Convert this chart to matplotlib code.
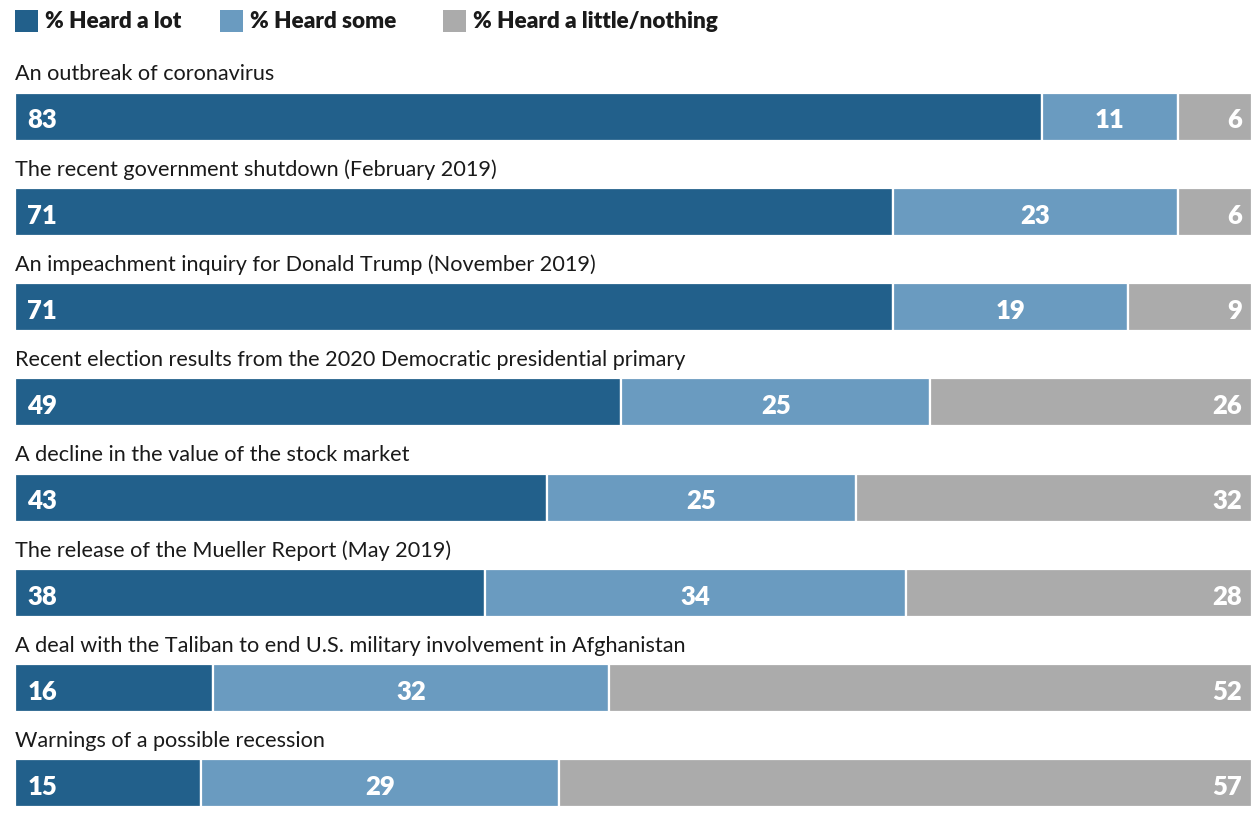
import matplotlib.pyplot as plt
from matplotlib.patches import Rectangle

# Data
topics = [
    "An outbreak of coronavirus",
    "The recent government shutdown (February 2019)",
    "An impeachment inquiry for Donald Trump (November 2019)",
    "Recent election results from the 2020 Democratic presidential primary",
    "A decline in the value of the stock market",
    "The release of the Mueller Report (May 2019)",
    "A deal with the Taliban to end U.S. military involvement in Afghanistan",
    "Warnings of a possible recession",
]
heard_lot = [83, 71, 71, 49, 43, 38, 16, 15]
heard_some = [11, 23, 19, 25, 25, 34, 32, 29]
heard_little = [6, 6, 9, 26, 32, 28, 52, 57]
series_names = ["% Heard a lot", "% Heard some", "% Heard a little/nothing"]

colors = ["#22608B", "#6A9BC0", "#ABABAB"]
plt.rcParams['font.family'] = ['Lato', 'DejaVu Sans']

W, H = 1252, 832
fig = plt.figure(figsize=(W / 100, H / 100), dpi=100)
x0 = 15 / W
ax = fig.add_axes([x0, 0, 1 - x0, 1])

first_c, step = 116.5, 95.25
ax.set_ylim((H - first_c) / step, -first_c / step)
ax.set_xlim(0, 100)
ax.axis("off")

h = 48 / step
ys = range(len(topics))
left = [0] * len(topics)
for k, vals in enumerate([heard_lot, heard_some, heard_little]):
    # the last segment fills the rest of the row (rounding)
    widths = vals if k < 2 else [100 - l for l in left]
    ax.barh(ys, widths, left=left, height=h, color=colors[k],
            edgecolor="white", linewidth=1.6)
    for i, v in enumerate(vals):
        if k == 0:
            x, ha = left[i] + 1.0, "left"
        elif k == 1:
            x, ha = left[i] + v / 2, "center"
        else:
            x, ha = 99.2, "right"
        ax.text(x, i + 0.04, str(v), ha=ha, va="center", color="white",
                fontsize=18.5, fontweight="heavy")
    left = [l + w for l, w in zip(left, widths)]

for i, t in enumerate(topics):
    ax.text(0, i - 0.445, t, ha="left", va="center", fontsize=15.6,
            color="#1a1a1a")

# legend
leg_x = [15, 220, 443]
for k, name in enumerate(series_names):
    fig.patches.append(Rectangle((leg_x[k] / W, 1 - 32 / H), 23 / W, 22 / H,
                                 transform=fig.transFigure,
                                 facecolor=colors[k], edgecolor="none"))
    fig.text((leg_x[k] + 30) / W, 1 - 21 / H, name, ha="left", va="center",
             fontsize=16.2, fontweight="heavy", color="#1a1a1a")

fig.savefig("out.png", dpi=100)
